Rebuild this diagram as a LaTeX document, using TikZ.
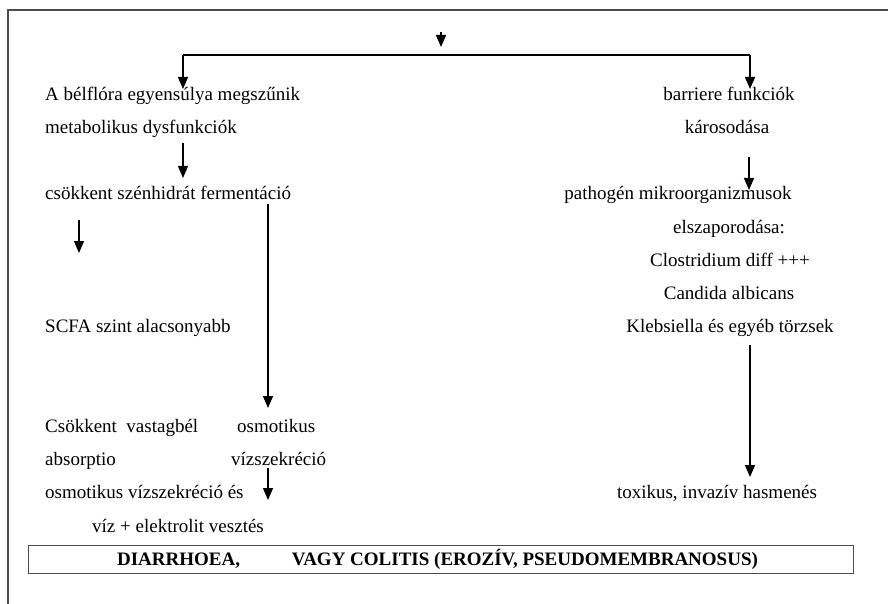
\documentclass[tikz,border=0pt]{standalone}
\usepackage{fontspec}
\setmainfont{Liberation Serif}
\usetikzlibrary{arrows.meta}
\begin{document}
\begin{tikzpicture}[x=1pt,y=-1pt,
    txt/.style={font=\fontsize{19}{21}\selectfont, inner sep=0pt, anchor=base west},
    ctxt/.style={font=\fontsize{19}{21}\selectfont, inner sep=0pt, anchor=base},
    arr/.style={line width=1.3pt, -{Triangle[width=10pt,length=12pt]}},
    ln/.style={line width=1.3pt}]
    \useasboundingbox (0,0) rectangle (888,604);
    \draw [line width=1.5pt, black!70] (8,604) -- (8,10) -- (888,10);

    \node [txt] (balance) at (45,101) {A bélflóra egyensúlya megszűnik};
    \node [txt] (metab) at (45,134) {metabolikus dysfunkciók};
    \node [txt] (ferment) at (45,200) {csökkent szénhidrát fermentáció};
    \node [txt] (scfa) at (45,332) {SCFA szint alacsonyabb};
    \node [txt] (absorb1) at (45,432) {Csökkent~ vastagbél};
    \node [txt] (osmo1) at (237,432) {osmotikus};
    \node [txt] (absorb2) at (45,465) {absorptio};
    \node [txt] (osmo2) at (231,465) {vízszekréció};
    \node [txt] (loss1) at (45,498) {osmotikus vízszekréció és};
    \node [txt] (loss2) at (92,532) {víz + elektrolit vesztés};

    \node [ctxt] (barrier1) at (729,101) {barriere funkciók};
    \node [ctxt] (barrier2) at (727,134) {károsodása};
    \node [ctxt] (patho1) at (678,200) {pathogén mikroorganizmusok};
    \node [ctxt] (patho2) at (729,233) {elszaporodása:};
    \node [ctxt] (clost) at (730,266) {Clostridium diff +++};
    \node [ctxt] (candida) at (729,299) {Candida albicans};
    \node [ctxt] (klebs) at (730,332) {Klebsiella és egyéb törzsek};
    \node [ctxt] (toxic) at (717,498) {toxikus, invazív hasmenés};

    \node [draw=black!70, line width=1pt, minimum width=825pt, minimum height=28pt,
           inner sep=0pt, font=\bfseries\fontsize{19}{21}\selectfont] (result) at (440.5,559)
          {\hspace{-6pt}DIARRHOEA,\hspace{52pt}VAGY COLITIS (EROZÍV, PSEUDOMEMBRANOSUS)};

    \coordinate (inA) at (441,32);
    \coordinate (inB) at (441,47);
    \coordinate (brL) at (183,55);
    \coordinate (brR) at (750,55);
    \coordinate (brLend) at (183,89);
    \coordinate (brRend) at (750,89);
    \coordinate (m1) at (183,143);
    \coordinate (m2) at (183,178);
    \coordinate (f1) at (268,204);
    \coordinate (f2) at (268,408);
    \coordinate (s1) at (79,220);
    \coordinate (s2) at (79,253);
    \coordinate (o1) at (268,468);
    \coordinate (o2) at (268,500);
    \coordinate (b1) at (749,157);
    \coordinate (b2) at (749,190);
    \coordinate (k1) at (750,345);
    \coordinate (k2) at (750,477);

    \draw [arr] (inA) -- (inB);
    \draw [ln] (brL) -- (brR);
    \draw [arr] (brL) -- (brLend);
    \draw [arr] (brR) -- (brRend);
    \draw [arr] (m1) -- (m2);
    \draw [arr] (f1) -- (f2);
    \draw [arr] (s1) -- (s2);
    \draw [arr] (o1) -- (o2);
    \draw [arr] (b1) -- (b2);
    \draw [arr] (k1) -- (k2);

\end{tikzpicture}
\end{document}
